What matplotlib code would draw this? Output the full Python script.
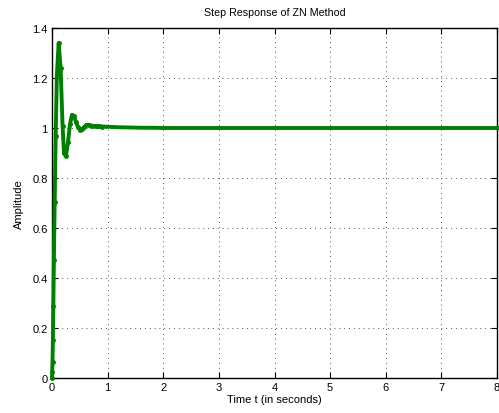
import matplotlib
matplotlib.use('Agg')
from matplotlib import pyplot as plt

# tiempos y amplitudes
t = [0, 0.004, 0.009, 0.016, 0.024, 0.034, 0.048, 0.066, 0.088, 0.12,
     0.155, 0.19, 0.215, 0.25, 0.287, 0.323, 0.359, 0.395, 0.43, 0.465,
     0.503, 0.54, 0.58, 0.62, 0.66, 0.70, 0.75, 0.80, 0.85, 0.90,
     1.0, 1.2, 1.4, 1.6, 1.8, 2.0, 2.2, 2.4, 2.6, 2.8,
     3.0, 3.2, 3.4, 3.6, 3.8, 4.0, 4.2, 4.4, 4.6, 4.8,
     5.0, 5.2, 5.4, 5.6, 5.8, 6.0, 6.2, 6.4, 6.6, 6.8,
     7.0, 7.2, 7.4, 7.6, 7.8, 8.0]
y = [0, 0.025, 0.065, 0.153, 0.287, 0.473, 0.703, 0.967, 1.215, 1.34,
     1.239, 1.009, 0.90, 0.887, 0.943, 1.015, 1.052, 1.047, 1.025, 1.005,
     0.993, 0.995, 1.004, 1.012, 1.013, 1.010, 1.008, 1.007, 1.007, 1.006,
     1.005, 1.003, 1.002, 1.001, 1.001, 1.0, 1.0, 1.0, 1.0, 1.0,
     1.0, 1.0, 1.0, 1.0, 1.0, 1.0, 1.0, 1.0, 1.0, 1.0,
     1.0, 1.0, 1.0, 1.0, 1.0, 1.0, 1.0, 1.0, 1.0, 1.0,
     1.0, 1.0, 1.0, 1.0, 1.0, 1.0]

xticks = [0, 1, 2, 3, 4, 5, 6, 7, 8]
yticks = [0, 0.2, 0.4, 0.6, 0.8, 1.0, 1.2, 1.4]
ytick_labels = ['0', '0.2', '0.4', '0.6', '0.8', '1', '1.2', '1.4']

plt.rcParams['font.family'] = ['Liberation Sans', 'DejaVu Sans']

fig = plt.figure(figsize=(4.99, 4.14), dpi=100)
ax = fig.add_axes([52 / 499, 35 / 414, 445 / 499, 350 / 414])

ax.plot(t, y, color='#008000', linewidth=2.8, marker='.', markersize=5,
        markevery=slice(0, 30), clip_on=False, zorder=3)

ax.set_xlim(0, 8)
ax.set_ylim(0, 1.4)
ax.set_xticks(xticks)
ax.set_xticklabels([str(v) for v in xticks])
ax.set_yticks(yticks)
ax.set_yticklabels(ytick_labels)
ax.grid(True, linestyle=(0, (1, 4)), color='#555555', linewidth=0.7)
ax.tick_params(direction='in', top=True, right=True, labelsize=8, length=4,
               width=0.8, pad=3)
for s in ax.spines.values():
    s.set_linewidth(1.0)

ax.set_title('Step Response of ZN Method', fontsize=7.7, pad=9)
ax.set_xlabel('Time t (in seconds)', fontsize=8, labelpad=1)
ax.set_ylabel('Amplitude', fontsize=8, labelpad=6)

fig.savefig('out.png', dpi=100)
